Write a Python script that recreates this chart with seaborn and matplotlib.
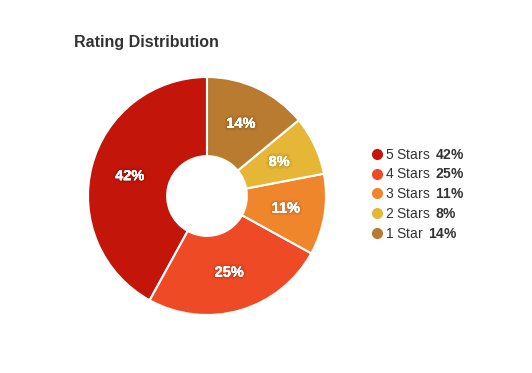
import matplotlib
matplotlib.use("Agg")
import matplotlib.pyplot as plt
import matplotlib.patheffects as pe
from matplotlib.lines import Line2D
import seaborn as sns

categories = ["5 Stars", "4 Stars", "3 Stars", "2 Stars", "1 Star"]
values = [42, 25, 11, 8, 14]
colors = ["#C4150A", "#EE4A26", "#F0862B", "#E6B736", "#B87B30"]

sns.set_theme(style="white")
plt.rcParams["font.family"] = ["Liberation Sans", "DejaVu Sans"]
plt.rcParams["mathtext.fontset"] = "custom"
plt.rcParams["mathtext.rm"] = "Liberation Sans"
plt.rcParams["mathtext.bf"] = "Liberation Sans:bold"

palette = sns.color_palette(colors)

W, H = 532, 373
fig = plt.figure(figsize=(W / 100, H / 100), dpi=100)
cx, cy, r = 207, 196, 119
ax = fig.add_axes([(cx - r) / W, (H - cy - r) / H, 2 * r / W, 2 * r / H])

wedges, texts, autotexts = ax.pie(
    values,
    colors=palette,
    startangle=90,
    counterclock=True,
    autopct=lambda p: f"{p:.0f}%",
    pctdistance=0.67,
    wedgeprops=dict(width=0.665, edgecolor="white", linewidth=1.5),
    textprops=dict(color="white", fontsize=10.5, fontweight="bold"),
)
for t in autotexts:
    t.set_path_effects([
        pe.withStroke(linewidth=4, foreground=(0, 0, 0, 0.05)),
        pe.withStroke(linewidth=2, foreground=(0, 0, 0, 0.06)),
        pe.Normal(),
    ])
ax.set_xlim(-1, 1)
ax.set_ylim(-1, 1)
ax.set_aspect("equal")
ax.axis("off")

fig.text(74 / W, 1 - 42 / H, "Rating Distribution", fontsize=11.5, fontweight="bold",
         color="#333333", va="center", ha="left")

handles = [Line2D([], [], marker="o", linestyle="none", markersize=7,
                  markerfacecolor=c, markeredgecolor=c) for c in palette]
labels = [f"{c} " + r"$\,\bf{" + f"{v}" + r"\%}$" for c, v in zip(categories, values)]
leg = fig.legend(handles, labels, loc="upper left",
                 bbox_to_anchor=(364 / W, 1 - 142 / H), frameon=False,
                 fontsize=10, labelcolor="#333333", handletextpad=0.1,
                 labelspacing=0.42, handlelength=1.0, borderaxespad=0)

fig.savefig("out.png", dpi=100, facecolor="white")
